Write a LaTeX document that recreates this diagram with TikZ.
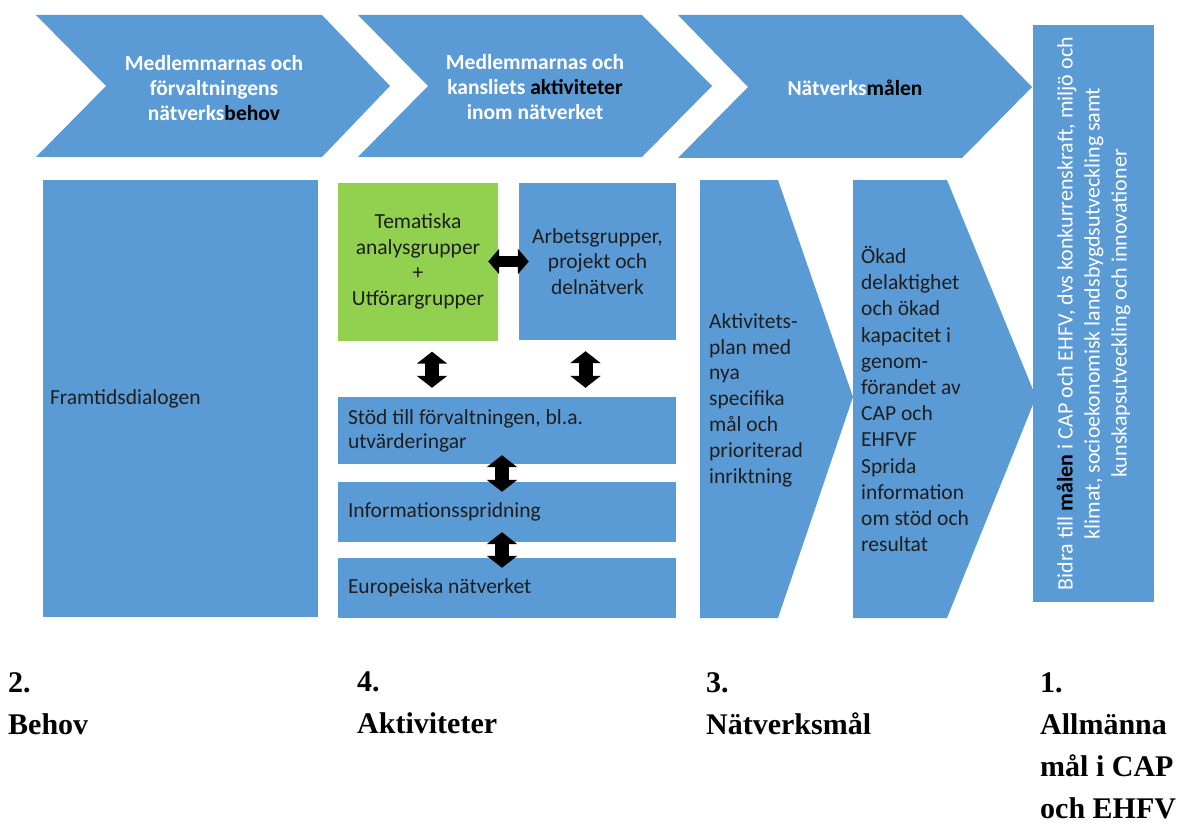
\documentclass[tikz,border=0pt]{standalone}
\usepackage{fontspec}
\setmainfont{Liberation Serif}
\setsansfont{Carlito}
\usepackage{xcolor}
\usetikzlibrary{arrows.meta}
\definecolor{nblue}{HTML}{5B9BD5}
\definecolor{ngreen}{HTML}{92D050}
\definecolor{ntext}{HTML}{1E1E1E}

\begin{document}
\begin{tikzpicture}[
    x=1pt, y=-1pt,
    chevron/.style={fill=nblue},
    box/.style={rectangle, fill=nblue, inner sep=0pt},
    head/.style={font=\sffamily\bfseries\fontsize{21.5}{25}\selectfont, text=white, align=center},
    txt/.style={font=\sffamily\fontsize{21.5}{24}\selectfont, text=ntext},
    numlabel/.style={font=\rmfamily\bfseries\fontsize{30}{42}\selectfont, align=left, anchor=north west, inner sep=0pt},
    dblarrow/.style={line width=14pt, {Triangle[length=12pt,width=30pt]}-{Triangle[length=12pt,width=30pt]}},
    harrow/.style={line width=11pt, {Triangle[length=11pt,width=25pt]}-{Triangle[length=11pt,width=25pt]}}
]
\useasboundingbox (0,0) rectangle (1194,824);

% Top chevrons
\fill[chevron] (36,15) -- (322,15) -- (390,86) -- (322,157) -- (36,157) -- (106,86) -- cycle;
\fill[chevron] (358,15) -- (642,15) -- (712,86) -- (642,157) -- (358,157) -- (428,86) -- cycle;
\fill[chevron] (678,15) -- (962,15) -- (1032,87) -- (962,158) -- (678,158) -- (748,87) -- cycle;
\node[head] (behovhead) at (214,88) {Medlemmarnas och\\förvaltningens\\nätverks\textcolor{black}{behov}};
\node[head] (aktivhead) at (535,87) {Medlemmarnas och\\kansliets \textcolor{black}{aktiviteter}\\inom nätverket};
\node[head] (malhead) at (855,88) {Nätverks\textcolor{black}{målen}};

% Behov
\node[box, txt, minimum width=275pt, minimum height=437pt, text width=261pt, align=flush left] (framtid) at (180.5,398.5) {Framtidsdialogen};

% Aktiviteter
\node[box, txt, fill=ngreen, minimum width=160pt, minimum height=158pt, align=center, font=\sffamily\fontsize{21.5}{25.7}\selectfont] (tema) at (418,261.5) {Tematiska\\analysgrupper\\+\\Utförargrupper};
\node[box, txt, minimum width=157pt, minimum height=157pt, align=center, font=\sffamily\fontsize{21.5}{25.7}\selectfont] (arbete) at (597.5,261.5) {Arbetsgrupper,\\projekt och\\delnätverk};
\node[box, txt, minimum width=338pt, minimum height=67pt, text width=318pt, align=flush left] (stod) at (507,430.5) {Stöd till förvaltningen, bl.a.\\utvärderingar};
\node[box, txt, minimum width=338pt, minimum height=60pt, text width=318pt, align=flush left] (info) at (507,512) {Informationsspridning};
\node[box, txt, minimum width=338pt, minimum height=60pt, text width=318pt, align=flush left] (euro) at (507,588) {Europeiska nätverket};

\draw[harrow, shorten <=-10pt, shorten >=-10pt] (tema.east) -- (arbete.west);
\draw[dblarrow, shorten <=11pt, shorten >=9pt] ([xshift=14pt]tema.south) -- ([xshift=14pt]tema.south |- stod.north);
\draw[dblarrow, shorten <=11pt, shorten >=9pt] ([xshift=-12pt]arbete.south) -- ([xshift=-12pt]arbete.south |- stod.north);
\draw[dblarrow, shorten <=-9pt, shorten >=-10pt] ([xshift=-5pt]stod.south) -- ([xshift=-5pt]stod.south |- info.north);
\draw[dblarrow, shorten <=-10pt, shorten >=-10pt] ([xshift=-5pt]info.south) -- ([xshift=-5pt]info.south |- euro.north);

% Natverksmal
\fill[chevron] (700,180) -- (778,180) -- (853,397) -- (778,618) -- (700,618) -- cycle;
\fill[chevron] (853,180) -- (947,180) -- (1036,397) -- (947,618) -- (853,618) -- cycle;
\node[txt, align=left, anchor=west, inner sep=0pt, font=\sffamily\fontsize{21.5}{25.8}\selectfont] (plan) at (709,400) {Aktivitets-\\plan med\\nya\\specifika\\mål och\\prioriterad\\inriktning};
\node[txt, align=left, anchor=west, inner sep=0pt, font=\sffamily\fontsize{21.5}{26.2}\selectfont] (okad) at (861,399) {Ökad\\delaktighet\\och ökad\\kapacitet i\\genom-\\förandet av\\CAP och\\EHFVF\\Sprida\\information\\om stöd och\\resultat};

% Allmanna mal
\node[box, rotate=90, minimum width=577pt, minimum height=121pt, align=center, text=white, font=\sffamily\fontsize{22}{27}\selectfont] (mal) at (1093.5,313.5) {Bidra till \textcolor{black}{\textbf{målen}} i CAP och EHFV, dvs konkurrenskraft, miljö och\\klimat, socioekonomisk landsbygdsutveckling samt\\kunskapsutveckling och innovationer};

% Column labels
\node[numlabel] (lbehov) at (8,672) {2.\\Behov};
\node[numlabel] (laktiv) at (357,672) {4.\\Aktiviteter};
\node[numlabel] (lnatmal) at (706,672) {3.\\Nätverksmål};
\node[numlabel] (lallman) at (1040,672) {1.\\Allmänna\\mål i CAP\\och EHFV};

\end{tikzpicture}
\end{document}
